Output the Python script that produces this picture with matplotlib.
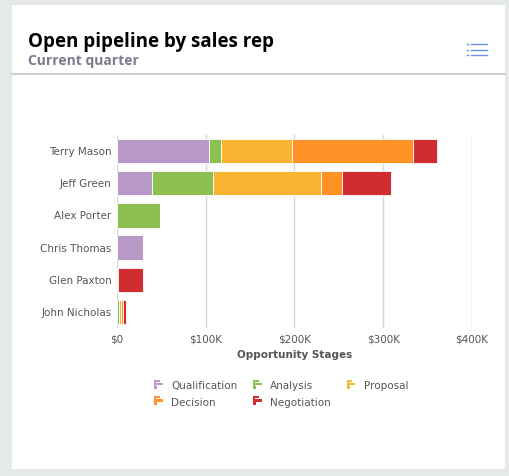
import numpy as np
import matplotlib
matplotlib.use('Agg')
import matplotlib.pyplot as plt
from matplotlib.patches import Rectangle
from matplotlib.legend_handler import HandlerBase
from matplotlib.lines import Line2D

# data (values in $K)
reps = ['Terry Mason', 'Jeff Green', 'Alex Porter', 'Chris Thomas', 'Glen Paxton', 'John Nicholas']
stages = ['Qualification', 'Analysis', 'Proposal', 'Decision', 'Negotiation']
qualification = [104, 40, 0, 29, 0, 0]
analysis = [13, 68, 49, 0, 0, 2]
proposal = [80, 122, 0, 0, 0, 3]
decision = [137, 24, 0, 0, 1, 2]
negotiation = [27, 55, 0, 0, 28, 3]
xticks = [0, 100, 200, 300, 400]
xtick_labels = ['$0', '$100K', '$200K', '$300K', '$400K']

colors = ['#b999c7', '#8cc152', '#f9b531', '#fe9226', '#cf2d30']


class BarIcon(HandlerBase):
    # little bar-chart glyph used as legend symbol
    def create_artists(self, legend, orig, xd, yd, w, h, fontsize, trans):
        c = orig.get_facecolor()
        out = [Rectangle((xd, yd), w * 0.22, h, facecolor=c, edgecolor='none', transform=trans)]
        rows = [0.65, 1.0, 0.35]
        rh = h / 3.6
        for i, f in enumerate(rows):
            y = yd + h - rh - i * rh * 1.3
            out.append(Rectangle((xd, y), w * f, rh, facecolor=c, edgecolor='none', transform=trans))
        return out


W, H = 510, 476
fig = plt.figure(figsize=(W / 100, H / 100), dpi=100)
fig.patch.set_facecolor('#e6e9ea')
# white card
fig.patches.append(Rectangle((12 / W, 1 - 469 / H), 493 / W, 464 / H, transform=fig.transFigure,
                             facecolor='white', edgecolor='none', zorder=-10))
# header separator
fig.add_artist(Line2D([12 / W, 505 / W], [1 - 74 / H, 1 - 74 / H], color='#cfcfcf', lw=1.5))

fig.text(28 / W, 1 - 46.5 / H, 'Open pipeline by sales rep', family='Open Sans', weight='bold',
         fontsize=13.5, color='black', va='baseline')
fig.text(28 / W, 1 - 64.5 / H, 'Current quarter', family='Open Sans', weight='bold',
         fontsize=10, color='#7a7b8c', va='baseline')

# menu icon
for yy in [44, 49.5, 55]:
    fig.add_artist(Line2D([467 / W, 468.5 / W], [1 - yy / H] * 2, color='#6b93e8', lw=1))
    fig.add_artist(Line2D([471 / W, 487 / W], [1 - yy / H] * 2, color='#6b93e8', lw=1))

ax = fig.add_axes([117 / W, 1 - 328 / H, 355 / W, 193 / H])
ax.set_facecolor('none')

y = np.arange(len(reps))
left = np.zeros(len(reps))
series = [qualification, analysis, proposal, decision, negotiation]
handles = []
for name, vals, col in zip(stages, series, colors):
    vals = np.array(vals, dtype=float)
    b = ax.barh(y, vals, left=left, height=0.76, color=col, edgecolor='white', linewidth=0.6,
                label=name, zorder=3)
    handles.append(b.patches[0])
    left += vals

ax.set_ylim(len(reps) - 0.5, -0.5)
ax.set_xlim(0, 400)
ax.set_xticks(xticks)
ax.set_xticklabels(xtick_labels)
ax.set_yticks(y)
ax.set_yticklabels(reps)
ax.tick_params(length=0, labelsize=7.5, labelcolor='#555555')
ax.tick_params(axis='x', pad=5)
ax.tick_params(axis='y', pad=4)
for s in ax.spines.values():
    s.set_visible(False)
ax.grid(axis='x', color='#d6d6d6', lw=1, zorder=0)
ax.set_xlabel('Opportunity Stages', fontsize=7.5, weight='bold', color='#555555', labelpad=4)

order = [0, 3, 1, 4, 2]
leg = fig.legend([handles[i] for i in order], [stages[i] for i in order], ncol=3,
                 loc='upper left', bbox_to_anchor=(145 / W, 1 - 372 / H), frameon=False,
                 fontsize=7.5, labelcolor='#555555', handlelength=0.8, handleheight=0.95,
                 handletextpad=0.8, columnspacing=1.55, labelspacing=0.6,
                 handler_map={matplotlib.patches.Rectangle: BarIcon()})

fig.savefig('out.png', dpi=100, facecolor=fig.get_facecolor())
